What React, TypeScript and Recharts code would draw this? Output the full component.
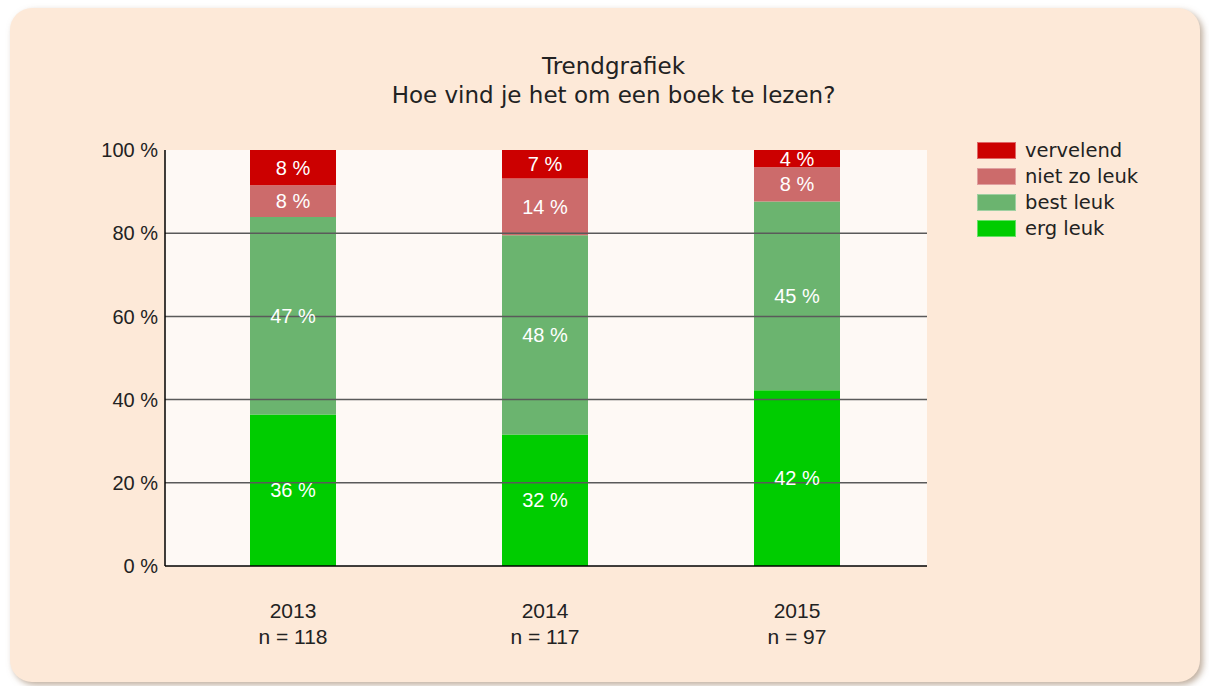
import { BarChart, Bar, XAxis, YAxis, CartesianGrid, ReferenceLine, LabelList } from 'recharts';

// answer counts per year (n = sum)
const years = ['2013', '2014', '2015'];
const ergLeuk = [43, 37, 41];
const bestLeuk = [56, 56, 44];
const nietZoLeuk = [9, 16, 8];
const vervelend = [10, 8, 4];

const yTicks = [0, 20, 40, 60, 80, 100];
const gridLines = [20, 40, 60, 80];

const series = [
  { key: 'erg', name: 'erg leuk', color: '#00cc00', border: '#66e066', counts: ergLeuk },
  { key: 'best', name: 'best leuk', color: '#6bb46f', border: '#9fd0a2', counts: bestLeuk },
  { key: 'niet', name: 'niet zo leuk', color: '#cc6b6b', border: '#e0a0a0', counts: nietZoLeuk },
  { key: 'verv', name: 'vervelend', color: '#cc0000', border: '#e06666', counts: vervelend },
];

const data = years.map((year, i) => {
  const n = series.reduce((s, ser) => s + ser.counts[i], 0);
  const row: Record<string, number | string> = { year, n };
  series.forEach((ser) => {
    row[ser.key] = (ser.counts[i] / n) * 100;
  });
  return row;
});

const axisFont = '"Liberation Sans", Arial, sans-serif';
const titleFont = '"DejaVu Sans", Verdana, sans-serif';

function YearTick(props: any) {
  const { x, y, payload, index } = props;
  const n = data[index]?.n;
  return (
    <text x={x} y={y} textAnchor="middle" fill="#222" fontSize={21} fontFamily={axisFont}>
      <tspan x={x} y={y + 50}>{payload.value}</tspan>
      <tspan x={x} y={y + 76}>{`n = ${n}`}</tspan>
    </text>
  );
}

export default function App() {
  return (
    <div style={{ position: 'absolute', left: 0, top: 0, width: 1209, height: 686 }}>
      <div
        style={{
          position: 'absolute',
          left: 10,
          top: 8,
          width: 1190,
          height: 674,
          borderRadius: 22,
          background: '#fde9d8',
          boxShadow: '3px 3px 6px rgba(140,110,80,0.55)',
        }}
      />
      <div
        style={{
          position: 'absolute',
          left: 0,
          top: 52,
          width: 1227,
          textAlign: 'center',
          fontFamily: titleFont,
          fontSize: 23,
          lineHeight: '29px',
          color: '#222',
        }}
      >
        <div>Trendgrafiek</div>
        <div>Hoe vind je het om een boek te lezen?</div>
      </div>
      <div style={{ position: 'absolute', left: 977, top: 137 }}>
        {[...series].reverse().map((ser) => (
          <div key={ser.key} style={{ display: 'flex', alignItems: 'center', height: 26 }}>
            <div
              style={{
                width: 37,
                height: 15,
                background: ser.color,
                border: `1px solid ${ser.border}`,
                marginRight: 9,
              }}
            />
            <span style={{ fontFamily: titleFont, fontSize: 19.5, color: '#222' }}>{ser.name}</span>
          </div>
        ))}
      </div>
      <div style={{ position: 'absolute', left: 0, top: 0 }}>
        <BarChart
          width={1209}
          height={686}
          data={data}
          margin={{ top: 150, right: 282, left: 95, bottom: 40 }}
        >
          <CartesianGrid horizontal={false} vertical={false} fill="#fef9f5" />
          {gridLines.map((v) => (
            <ReferenceLine key={v} y={v} stroke="#5a5a5a" strokeWidth={1.5} />
          ))}
          <XAxis
            dataKey="year"
            height={80}
            padding={{ left: 2, right: 4 }}
            tickLine={false}
            tickSize={0}
            axisLine={{ stroke: '#000', strokeWidth: 1.5 }}
            tick={<YearTick />}
            interval={0}
          />
          <YAxis
            width={70}
            domain={[0, 100]}
            ticks={yTicks}
            tickLine={false}
            tickSize={0}
            tickMargin={7}
            axisLine={{ stroke: '#000', strokeWidth: 1.5 }}
            tickFormatter={(v: number) => `${v} %`}
            tick={{ fontSize: 20, fill: '#222', fontFamily: axisFont }}
          />
          {series.map((ser) => (
            <Bar
              key={ser.key}
              dataKey={ser.key}
              name={ser.name}
              stackId="a"
              fill={ser.color}
              barSize={86}
              isAnimationActive={false}
            >
              <LabelList
                dataKey={ser.key}
                position="center"
                formatter={(v: any) => `${Math.round(Number(v))} %`}
                fill="#fff"
                fontSize={20}
                fontFamily={axisFont}
              />
            </Bar>
          ))}
        </BarChart>
      </div>
    </div>
  );
}
